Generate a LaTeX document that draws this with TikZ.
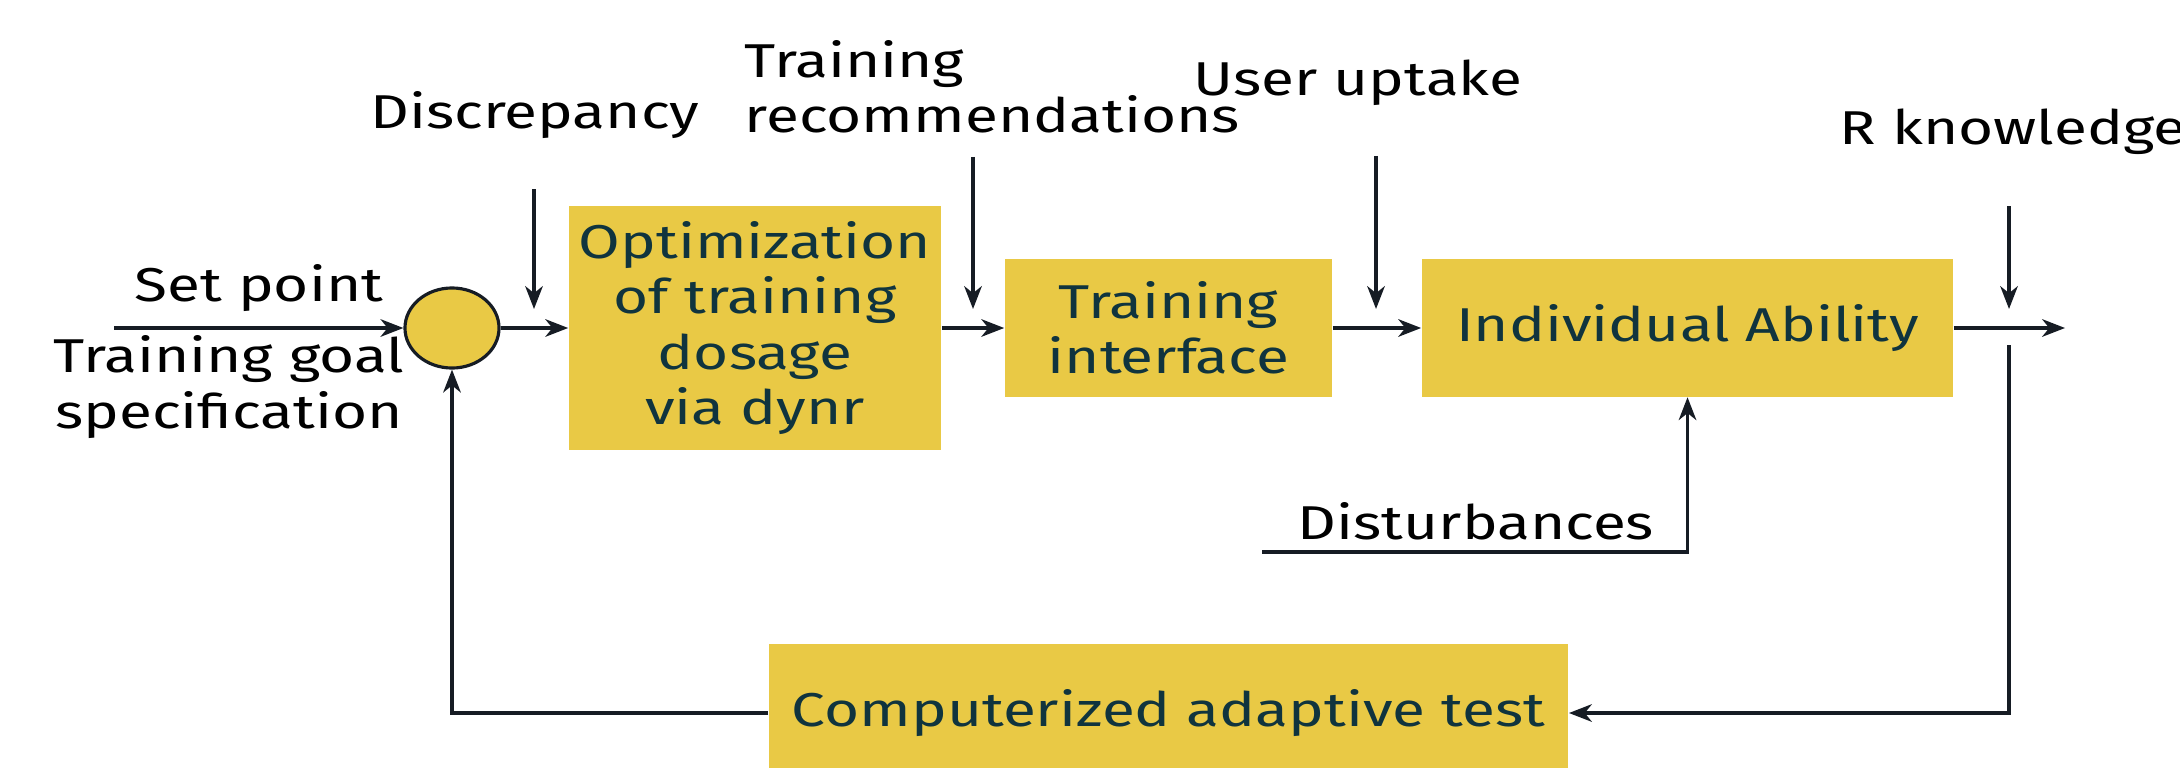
\documentclass[tikz,border=0pt]{standalone}
\usepackage{fontspec}
\setmainfont{Fira Sans}[FakeStretch=1.27]
\usetikzlibrary{arrows.meta,shapes.geometric}
\definecolor{boxfill}{RGB}{233,201,69}
\definecolor{boxtext}{RGB}{16,52,62}
\definecolor{linec}{RGB}{22,28,36}
\newcommand\labfont{\fontsize{13.5}{15.7}\selectfont}
\begin{document}
\begin{tikzpicture}[x=0.01cm,y=-0.01cm,
 blk/.style={fill=boxfill, draw=none, inner sep=0pt, text=boxtext, align=center, font=\labfont},
 lbl/.style={inner sep=0pt, text=black, align=center, font=\labfont},
 conn/.style={draw=linec, line width=0.9pt, -{Stealth[length=6.5pt,width=5pt,inset=2pt]}},
 plain/.style={draw=linec, line width=0.9pt}]
\useasboundingbox (0,0) rectangle (2180,767);
% blocks
\node[shape=ellipse, fill=boxfill, draw=linec, line width=0.9pt, minimum width=0.94cm, minimum height=0.80cm, inner sep=0pt] (sum) at (452,328) {};
\node[blk, minimum width=3.72cm, minimum height=2.44cm] (opt) at (755,328) {Optimization\\of training\\dosage\\via dynr};
\node[blk, minimum width=3.27cm, minimum height=1.37cm] (ti) at (1168.5,328) {Training\\interface};
\node[blk, minimum width=5.31cm, minimum height=1.37cm] (ia) at (1687.5,328) {Individual Ability};
\node[blk, minimum width=7.99cm, minimum height=1.38cm] (cat) at (1168.5,713) {Computerized adaptive test};
% labels
\node[lbl] (lsp) at (259,288) {Set point};
\node[lbl] (lgoal) at (229,387) {Training goal\\specification};
\node[lbl] (ldis) at (535,115) {Discrepancy};
\node[lbl, anchor=west, align=left] (lrec) at (744,87) {Training\\recommendations};
\node[lbl] (luser) at (1358,83) {User uptake};
\node[lbl, anchor=west] (lr) at (1839,132) {R knowledge};
\node[lbl] (ldist) at (1476,521) {Disturbances};
% free ends
\coordinate (sp) at (114,328);
\coordinate (out) at (2065,328);
\coordinate (d1a) at (534,189);  \coordinate (d1b) at (534,309);
\coordinate (d2a) at (973,157);  \coordinate (d2b) at (973,309);
\coordinate (d3a) at (1376,156); \coordinate (d3b) at (1376,309);
\coordinate (d4a) at (2009,206); \coordinate (d4b) at (2009,309);
\coordinate (fb0) at (2009,345);
\coordinate (fb1) at (2009,713);
\coordinate (fb2) at (452,713);
\coordinate (ds0) at (1262,552);
% connectors
\draw[conn] (sp) -- (sum.west);
\draw[conn] (sum.east) -- (opt.west);
\draw[conn] (opt.east) -- (ti.west);
\draw[conn] (ti.east) -- (ia.west);
\draw[conn] (ia.east) -- (out);
\draw[conn] (d1a) -- (d1b);
\draw[conn] (d2a) -- (d2b);
\draw[conn] (d3a) -- (d3b);
\draw[conn] (d4a) -- (d4b);
\draw[conn] (fb0) -- (fb1) -- (cat.east);
\draw[conn] (cat.west) -- (fb2) -- (sum.south);
\draw[conn] (ds0) -- (ia.south |- ds0) -- (ia.south);
\end{tikzpicture}
\end{document}
